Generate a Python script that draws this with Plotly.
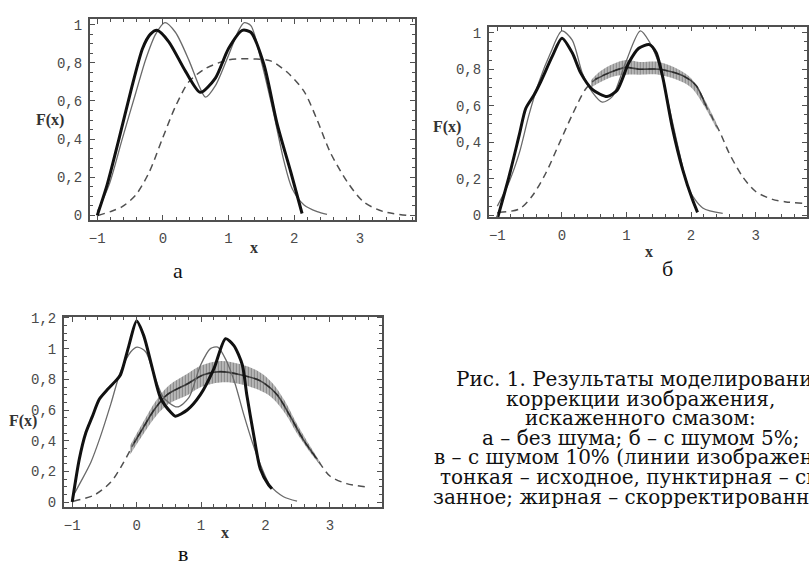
import numpy as np
import plotly.graph_objects as go

W, H = 809, 569

# ---------------- data ----------------
# panel а : no noise
a_orig_x = [-1.0, -0.82, -0.62, -0.415, -0.26, -0.11, 0.03, 0.19, 0.40, 0.55, 0.65, 0.80, 1.0, 1.155, 1.24, 1.34, 1.49, 1.69, 1.84, 1.97, 2.15, 2.35, 2.50]
a_orig_y = [0.02, 0.16, 0.40, 0.64, 0.82, 0.95, 1.01, 0.96, 0.81, 0.68, 0.62, 0.68, 0.84, 0.97, 1.01, 0.995, 0.82, 0.53, 0.29, 0.14, 0.055, 0.02, 0.005]
a_corr_x = [-1.0, -0.85, -0.67, -0.49, -0.31, -0.19, -0.09, 0.09, 0.345, 0.57, 0.80, 1.0, 1.21, 1.34, 1.54, 1.74, 1.95, 2.12]
a_corr_y = [0.0, 0.16, 0.40, 0.65, 0.875, 0.95, 0.97, 0.91, 0.755, 0.645, 0.72, 0.875, 0.97, 0.96, 0.79, 0.48, 0.225, 0.01]
a_blur_x = [-0.99, -0.80, -0.62, -0.415, -0.21, -0.01, 0.19, 0.395, 0.65, 1.0, 1.41, 1.64, 1.895, 2.15, 2.35, 2.55, 2.81, 3.06, 3.36, 3.72]
a_blur_y = [0.0, 0.02, 0.046, 0.106, 0.226, 0.40, 0.57, 0.70, 0.77, 0.815, 0.82, 0.81, 0.75, 0.65, 0.50, 0.33, 0.175, 0.07, 0.02, 0.0]

# panel б : noise 5 %
b_orig_x = [-1.0, -0.82, -0.66, -0.51, -0.355, -0.175, 0.0, 0.16, 0.315, 0.47, 0.625, 0.78, 0.985, 1.215, 1.355, 1.51, 1.665, 1.82, 1.97, 2.18, 2.49]
b_orig_y = [0.05, 0.18, 0.34, 0.55, 0.73, 0.89, 1.01, 0.96, 0.78, 0.675, 0.62, 0.65, 0.835, 1.01, 0.95, 0.82, 0.585, 0.34, 0.14, 0.04, 0.01]
b_corr_x = [-1.0, -0.82, -0.66, -0.56, -0.43, -0.33, -0.15, 0.0, 0.16, 0.29, 0.47, 0.70, 0.855, 1.035, 1.19, 1.355, 1.46, 1.565, 1.71, 1.87, 2.02, 2.10]
b_corr_y = [-0.02, 0.21, 0.44, 0.585, 0.66, 0.73, 0.87, 0.97, 0.89, 0.78, 0.69, 0.65, 0.685, 0.835, 0.915, 0.935, 0.89, 0.75, 0.48, 0.25, 0.087, 0.016]
b_blur_x = [-0.97, -0.66, -0.46, -0.25, -0.045, 0.16, 0.365, 0.52, 0.73, 0.985, 1.2, 1.51, 1.87, 2.08, 2.23, 2.44, 2.59, 2.80, 3.0, 3.26, 3.47, 3.72]
b_blur_y = [0.016, 0.034, 0.105, 0.23, 0.39, 0.55, 0.69, 0.745, 0.78, 0.81, 0.80, 0.80, 0.765, 0.71, 0.60, 0.46, 0.34, 0.21, 0.13, 0.087, 0.073, 0.066]
# noisy spread of the blurred curve (upper / lower edge)
b_noise_x = [0.45, 0.6, 0.8, 1.0, 1.2, 1.5, 1.8, 2.0, 2.2, 2.4]
b_noise_hi = [0.74, 0.79, 0.83, 0.85, 0.84, 0.84, 0.80, 0.75, 0.64, 0.50]
b_noise_lo = [0.70, 0.73, 0.76, 0.77, 0.77, 0.77, 0.74, 0.70, 0.60, 0.47]

# panel в : noise 10 %
c_orig_x = [-1.0, -0.87, -0.71, -0.56, -0.40, -0.25, -0.09, 0.01, 0.14, 0.27, 0.42, 0.63, 0.81, 0.99, 1.145, 1.26, 1.40, 1.53, 1.66, 1.82, 1.95, 2.07, 2.28, 2.49]
c_orig_y = [0.03, 0.13, 0.26, 0.43, 0.64, 0.85, 0.98, 1.01, 0.98, 0.83, 0.68, 0.62, 0.68, 0.89, 1.0, 1.01, 0.915, 0.77, 0.575, 0.36, 0.215, 0.11, 0.035, 0.006]
c_corr_x = [-1.0, -0.89, -0.79, -0.69, -0.58, -0.45, -0.325, -0.25, -0.12, 0.0, 0.11, 0.245, 0.37, 0.53, 0.60, 0.785, 0.99, 1.20, 1.38, 1.51, 1.64, 1.71, 1.82, 1.92, 2.05, 2.10]
c_corr_y = [0.0, 0.28, 0.45, 0.555, 0.67, 0.735, 0.79, 0.83, 1.02, 1.18, 1.085, 0.87, 0.68, 0.585, 0.56, 0.60, 0.70, 0.87, 1.065, 1.02, 0.895, 0.70, 0.43, 0.215, 0.11, 0.087]
c_blur_x = [-0.98, -0.66, -0.40, -0.20, -0.04, 0.11, 0.27, 0.475, 0.785, 1.04, 1.30, 1.61, 1.92, 2.18, 2.39, 2.59, 2.80, 3.0, 3.26, 3.57]
c_blur_y = [0.006, 0.045, 0.13, 0.26, 0.385, 0.49, 0.60, 0.70, 0.77, 0.83, 0.85, 0.83, 0.79, 0.70, 0.555, 0.405, 0.28, 0.17, 0.12, 0.098]
c_noise_x = [-0.1, 0.1, 0.3, 0.5, 0.8, 1.0, 1.3, 1.6, 1.9, 2.1, 2.3, 2.5, 2.7, 2.85]
c_noise_hi = [0.37, 0.52, 0.66, 0.76, 0.84, 0.89, 0.92, 0.90, 0.85, 0.78, 0.66, 0.50, 0.36, 0.26]
c_noise_lo = [0.31, 0.44, 0.56, 0.64, 0.70, 0.75, 0.78, 0.77, 0.73, 0.68, 0.58, 0.44, 0.32, 0.24]

x_tickvals = [-1, 0, 1, 2, 3]
x_ticktext = ["\u22121", "0", "1", "2", "3"]
y_tickvals = [0, 0.2, 0.4, 0.6, 0.8, 1.0, 1.2]
y_ticktext = ["0", "0,2", "0,4", "0,6", "0,8", "1", "1,2"]

caption_lines = [
    "Рис. 1. Результаты моделирования",
    "коррекции изображения,",
    "искаженного смазом:",
    "а – без шума; б – с шумом 5%;",
    "в – с шумом 10% (линии изображения:",
    "тонкая – исходное, пунктирная – сма-",
    "занное; жирная – скорректированное).",
]

# ---------------- layout geometry (pixels) ----------------
def fx(px):
    return px / W

def fy(py):
    return 1 - py / H

panels = [
    dict(name="", frame=(89, 415, 13, 219), xr=(-1.114, 3.84), yr=(-0.024, 1.031),
         orig=(a_orig_x, a_orig_y), corr=(a_corr_x, a_corr_y), blur=(a_blur_x, a_blur_y),
         noise=None, ymax=1.0, fx_pos=(49, 117), x_pos=(254, 247), lab="а", lab_pos=(177, 271)),
    dict(name="2", frame=(489, 808, 21, 216), xr=(-1.132, 3.795), yr=(-0.01, 1.034),
         orig=(b_orig_x, b_orig_y), corr=(b_corr_x, b_corr_y), blur=(b_blur_x, b_blur_y),
         noise=(b_noise_x, b_noise_hi, b_noise_lo), ymax=1.0, fx_pos=(447, 124), x_pos=(650, 251),
         lab="б", lab_pos=(668, 269)),
    dict(name="3", frame=(63, 382, 318, 513), xr=(-1.13, 3.81), yr=(-0.034, 1.208),
         orig=(c_orig_x, c_orig_y), corr=(c_corr_x, c_corr_y), blur=(c_blur_x, c_blur_y),
         noise=(c_noise_x, c_noise_hi, c_noise_lo), ymax=1.2, fx_pos=(22, 425), x_pos=(225, 539),
         lab="в", lab_pos=(182, 560)),
]

fig = go.Figure()
axis_col = "#505050"
tick_font = dict(family="Liberation Mono, DejaVu Sans Mono, monospace", size=14, color="#4a4a4a")
anns = []

for p in panels:
    xa = "x" + p["name"]
    ya = "y" + p["name"]
    bx, by = p["blur"]
    fig.add_trace(go.Scatter(x=bx, y=by, xaxis=xa, yaxis=ya, mode="lines",
                             line=dict(color="#505050", width=1.5, dash="7px,5px", shape="spline", smoothing=0.8),
                             showlegend=False, hoverinfo="skip"))
    if p["noise"] is not None:
        nx, nhi, nlo = p["noise"]
        fig.add_trace(go.Scatter(x=nx, y=nlo, xaxis=xa, yaxis=ya, mode="lines",
                                 line=dict(width=0, shape="spline", color="rgba(0,0,0,0)"),
                                 showlegend=False, hoverinfo="skip"))
        fig.add_trace(go.Scatter(x=nx, y=nhi, xaxis=xa, yaxis=ya, mode="lines", fill="tonexty",
                                 line=dict(width=0, shape="spline", color="rgba(0,0,0,0)"),
                                 fillcolor="rgba(140,140,140,0.35)",
                                 fillpattern=dict(shape="|", size=3, solidity=0.6,
                                                  fgcolor="rgba(25,25,25,0.85)", fillmode="overlay"),
                                 showlegend=False, hoverinfo="skip"))
        bxa, bya = np.array(bx), np.array(by)
        m = (bxa >= nx[0]) & (bxa <= nx[-1])
        fig.add_trace(go.Scatter(x=bxa[m], y=bya[m], xaxis=xa, yaxis=ya, mode="lines",
                                 line=dict(color="rgba(30,30,30,0.75)", width=1.6, shape="spline", smoothing=0.8),
                                 showlegend=False, hoverinfo="skip"))
    ox, oy = p["orig"]
    fig.add_trace(go.Scatter(x=ox, y=oy, xaxis=xa, yaxis=ya, mode="lines",
                             line=dict(color="#6a6a6a", width=1.3, shape="spline", smoothing=0.8),
                             showlegend=False, hoverinfo="skip"))
    cx, cy = p["corr"]
    fig.add_trace(go.Scatter(x=cx, y=cy, xaxis=xa, yaxis=ya, mode="lines",
                             line=dict(color="#111111", width=3, shape="spline", smoothing=0.7),
                             showlegend=False, hoverinfo="skip"))

    l, r, t, b = p["frame"]
    n_y = [v for v in y_tickvals if v <= p["ymax"] + 1e-9]
    t_y = y_ticktext[:len(n_y)]
    common = dict(showline=True, linecolor=axis_col, linewidth=1.6, mirror="allticks",
                  ticks="inside", ticklen=5, tickwidth=1, tickcolor=axis_col,
                  showgrid=False, zeroline=False, tickfont=tick_font)
    xkey = "xaxis" + p["name"]
    ykey = "yaxis" + p["name"]
    fig.update_layout({
        xkey: dict(domain=[fx(l), fx(r)], range=list(p["xr"]), anchor=ya,
                   tickmode="array", tickvals=x_tickvals, ticktext=x_ticktext,
                   minor=dict(ticks="inside", ticklen=3, dtick=0.2, tick0=0, tickcolor=axis_col),
                   ticklabelstandoff=4, **common),
        ykey: dict(domain=[fy(b), fy(t)], range=list(p["yr"]), anchor=xa,
                   tickmode="array", tickvals=n_y, ticktext=t_y,
                   minor=dict(ticks="inside", ticklen=3, dtick=0.05, tick0=0, tickcolor=axis_col),
                   ticklabelstandoff=3, **common),
    })
    anns.append(dict(x=fx(p["fx_pos"][0]), y=fy(p["fx_pos"][1]), xref="paper", yref="paper",
                     text="F(x)", showarrow=False, xanchor="center", yanchor="middle",
                     font=dict(family="Liberation Serif, serif", size=16, color="#333333", weight="bold")))
    anns.append(dict(x=fx(p["x_pos"][0]), y=fy(p["x_pos"][1]), xref="paper", yref="paper",
                     text="x", showarrow=False, xanchor="center", yanchor="middle",
                     font=dict(family="Liberation Serif, serif", size=16, color="#333333", weight="bold")))
    anns.append(dict(x=fx(p["lab_pos"][0]), y=fy(p["lab_pos"][1]), xref="paper", yref="paper",
                     text=p["lab"], showarrow=False, xanchor="center", yanchor="middle",
                     font=dict(family="Liberation Serif, serif", size=22, color="#111111")))

# caption (centred at x = 641 px; clipped at the right edge like the scan)
cap_centres = [382, 402, 422, 442, 462, 482, 502]
for line, cy_ in zip(caption_lines, cap_centres):
    anns.append(dict(x=fx(641), y=fy(cy_), xref="paper", yref="paper",
                     text=line, showarrow=False, xanchor="center", yanchor="middle",
                     font=dict(family="DejaVu Serif, Liberation Serif, serif", size=20, color="#111111")))

fig.update_layout(width=W, height=H, margin=dict(l=0, r=0, t=0, b=0),
                  paper_bgcolor="white", plot_bgcolor="white", annotations=anns,
                  showlegend=False)

fig.write_html("out.html", config={"displayModeBar": False},
               post_script="document.body.style.margin='0';document.body.style.overflow='hidden';")
